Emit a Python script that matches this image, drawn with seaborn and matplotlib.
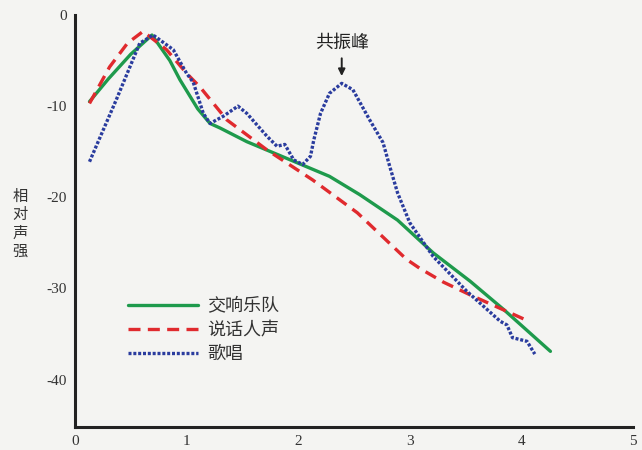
import pandas as pd
import numpy as np
import seaborn as sns
import matplotlib.pyplot as plt

# Data (x: 0-5, y: relative level in dB)
orch_x = [0.13, 0.30, 0.50, 0.69, 0.85, 0.94, 1.10, 1.21, 1.30, 1.54, 1.93, 2.28, 2.55, 2.89, 3.21, 3.54, 3.84, 4.26]
orch_y = [-9.5, -7.0, -4.3, -2.2, -5.0, -7.1, -10.3, -11.9, -12.4, -13.9, -15.9, -17.7, -19.7, -22.5, -26.1, -29.2, -32.3, -36.9]

speech_x = [0.13, 0.31, 0.47, 0.61, 0.82, 1.00, 1.12, 1.36, 1.72, 2.13, 2.53, 2.97, 3.09, 3.30, 3.54, 4.03]
speech_y = [-9.7, -5.7, -3.1, -1.8, -3.8, -6.4, -7.9, -11.5, -14.8, -18.1, -21.7, -26.8, -27.8, -29.3, -30.7, -33.4]

sing_x = [0.13, 0.37, 0.58, 0.70, 0.88, 1.00, 1.06, 1.15, 1.21, 1.33, 1.46, 1.54, 1.72, 1.81, 1.88,
          1.96, 2.04, 2.11, 2.14, 2.20, 2.28, 2.39, 2.49, 2.64, 2.76, 2.82, 2.89, 3.00, 3.21, 3.51,
          3.81, 3.87, 3.92, 4.05, 4.12]
sing_y = [-16.1, -9.3, -3.1, -2.2, -3.8, -6.4, -7.4, -10.8, -11.9, -11.1, -10.0, -10.8, -13.3, -14.4, -14.2,
          -15.9, -16.4, -15.5, -13.7, -10.8, -8.6, -7.5, -8.2, -11.5, -14.0, -16.6, -19.5, -22.8, -26.5, -30.3,
          -33.6, -34.0, -35.4, -35.8, -37.2]

names = ["交响乐队", "说话人声", "歌唱"]
colors = {"交响乐队": "#1e9a4c", "说话人声": "#e02a2e", "歌唱": "#2a3c9e"}
dash_map = {"交响乐队": "", "说话人声": (3.6, 2.2), "歌唱": (0.9, 0.55)}

df = pd.concat([
    pd.DataFrame({"x": orch_x, "y": orch_y, "series": names[0]}),
    pd.DataFrame({"x": speech_x, "y": speech_y, "series": names[1]}),
    pd.DataFrame({"x": sing_x, "y": sing_y, "series": names[2]}),
], ignore_index=True)

sns.set_style("white")
plt.rcParams['font.family'] = ['Noto Sans CJK SC', 'DejaVu Sans']
plt.rcParams['axes.unicode_minus'] = False

fig = plt.figure(figsize=(6.42, 4.5), dpi=100, facecolor="#f4f4f2")
ax = fig.add_axes([0.1168, 0.0511, 0.8692, 0.9156])
ax.set_facecolor("#f4f4f2")

sns.lineplot(data=df, x="x", y="y", hue="series", style="series",
             hue_order=names, style_order=names, palette=colors, dashes=dash_map,
             sort=False, estimator=None, linewidth=2.4, ax=ax)

ax.set_xlim(0, 5)
ax.set_ylim(-45.2, 0)
ax.set_xticks([0, 1, 2, 3, 4, 5])
ax.set_yticks([0, -10, -20, -30, -40])
ax.set_xlabel("")
ax.set_ylabel("")

for s in ["top", "right"]:
    ax.spines[s].set_visible(False)
for s in ["left", "bottom"]:
    ax.spines[s].set_color("#222222")
    ax.spines[s].set_linewidth(2.2)
ax.tick_params(direction="in", length=9, width=2.2, color="#222222",
               labelsize=11, labelcolor="#333333", pad=6)
for lbl in ax.get_xticklabels() + ax.get_yticklabels():
    lbl.set_family(["Liberation Serif", "DejaVu Serif"])

# vertical y label
fig.text(20 / 642, 1 - 224 / 450, "相\n对\n声\n强", ha="center", va="center",
         fontsize=11, linespacing=1.1, color="#333333")

handles, labels = ax.get_legend_handles_labels()
leg = ax.legend(handles, labels, loc="upper left", bbox_to_anchor=(0.095, 0.314),
                frameon=False, fontsize=13, handlelength=3.9, handletextpad=0.5,
                labelspacing=0.32, borderpad=0, borderaxespad=0)
for t in leg.get_texts():
    t.set_color("#333333")

ax.annotate("共振峰", xy=(2.39, -6.7), xytext=(2.39, -3.1),
            ha="center", va="center", fontsize=13, color="#222222",
            arrowprops=dict(arrowstyle="-|>", color="#222222", lw=1.4,
                            mutation_scale=10, shrinkA=2, shrinkB=0))

fig.savefig("out.png", dpi=100, facecolor=fig.get_facecolor())
